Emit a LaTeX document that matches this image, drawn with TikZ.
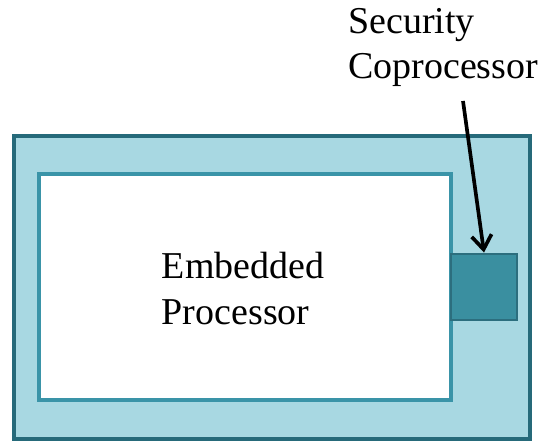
\documentclass[tikz,border=0pt]{standalone}
\usepackage{fontspec}
\setmainfont{Liberation Serif}
\usetikzlibrary{arrows.meta}

\definecolor{boardfill}{RGB}{168,216,226}
\definecolor{boardline}{RGB}{38,106,122}
\definecolor{cpuline}{RGB}{58,148,168}
\definecolor{secfill}{RGB}{58,143,160}
\definecolor{secline}{RGB}{44,110,126}

\begin{document}
\begin{tikzpicture}
			\tikzset{boardbox/.style={draw=boardline, fill=boardfill, line width=2.8pt}}
			\tikzset{cpubox/.style={draw=cpuline, fill=white, line width=2.8pt}}
			\tikzset{secbox/.style={draw=secline, fill=secfill, line width=2.1pt,
						minimum width=1.65cm, minimum height=1.65cm, inner sep=0pt}}
			\tikzset{lbl/.style={align=left, inner sep=0pt,
						font=\fontsize{27}{32.4}\selectfont}}
			\tikzset{pointer/.style={line width=2.6pt,
						-{Straight Barb[length=3.5mm, width=5mm]}}}

			\useasboundingbox (0,0) rectangle (13.65,11.05);

			% board and the two chips on it
			\draw[boardbox] (0.35,0.075) rectangle (13.25,7.65);
			\draw[cpubox] (0.975,1.05) rectangle (11.275,6.7);
			\node[secbox] (secco) at (12.1,3.875) {};

			\node[lbl] (cpulabel) at (6.075,3.84) {Embedded\\Processor};
			\node[lbl, anchor=west] (seclabel) at (8.7,9.86) {Security\\Coprocessor};

			\coordinate (tail) at (11.575,8.525);
			\draw[pointer] (tail) -- (secco.north);
		\end{tikzpicture}
\end{document}
